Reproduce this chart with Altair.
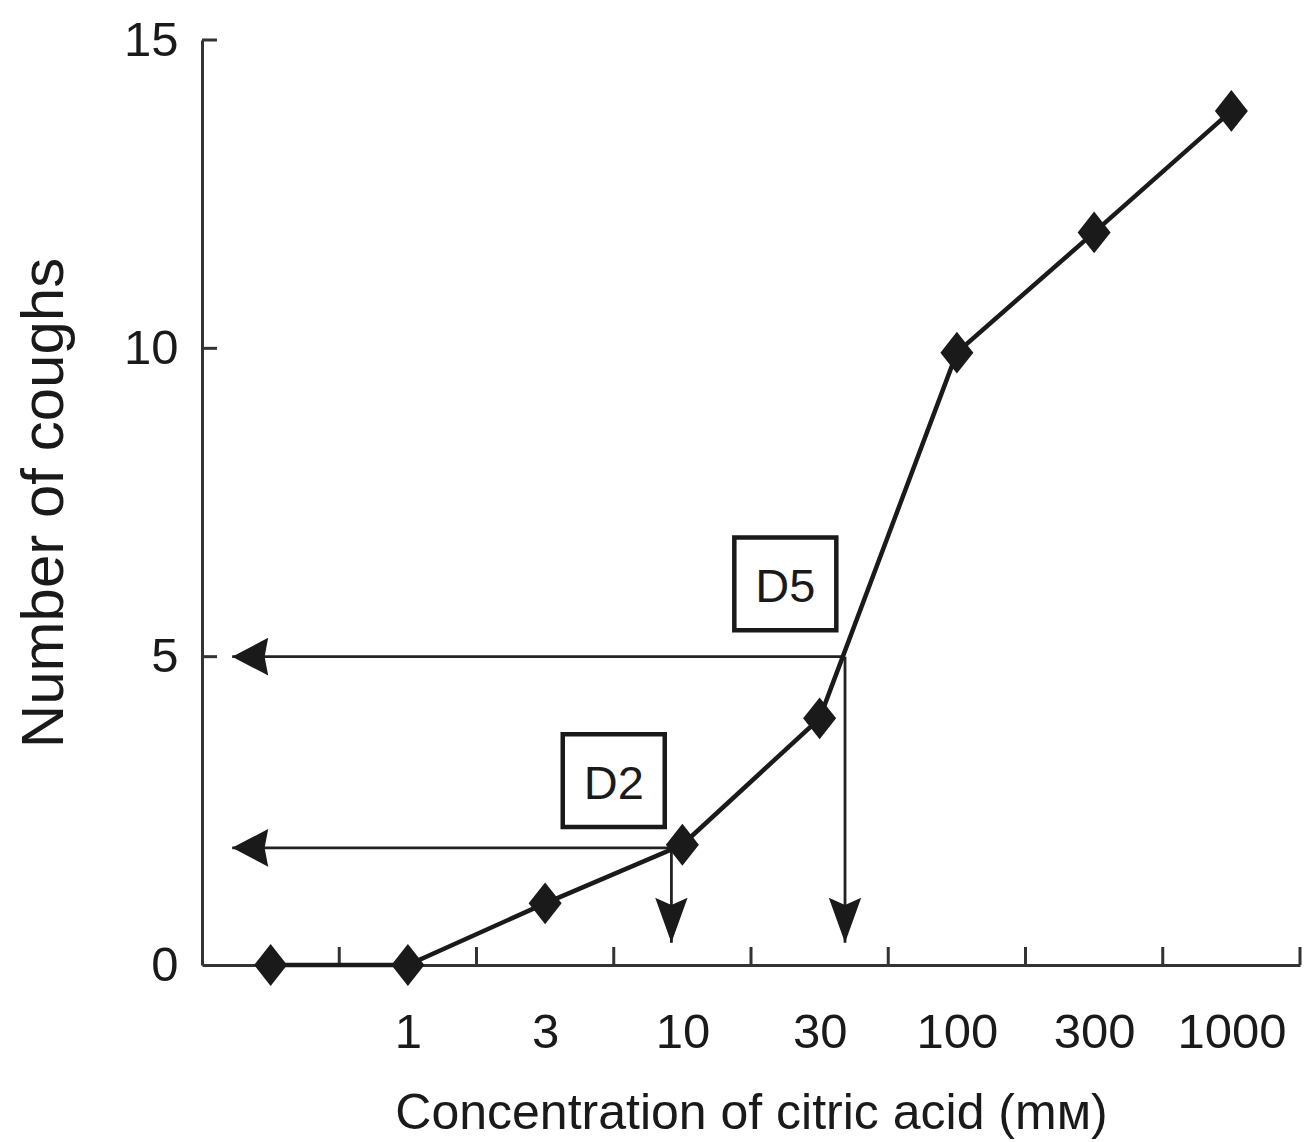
import json
import altair as alt
import pandas as pd

# ---- data ----
conc_labels = ["", "1", "3", "10", "30", "100", "300", "1000"]
conc_index = [0, 1, 2, 3, 4, 5, 6, 7]
coughs = [0, 0, 1, 1.95, 4, 9.93, 11.88, 13.85]

x_tick_pos = [0.5, 1.5, 2.5, 3.5, 4.5, 5.5, 6.5, 7.5]
x_label_pos = [1, 2, 3, 4, 5, 6, 7]
y_tick_vals = [0, 5, 10, 15]
y_inner_ticks = [5, 10, 15]

d_labels = ["D2", "D5"]
d_levels = [1.90, 5.0]          # number of coughs
d_conc_pos = [2.92, 4.185]      # position on concentration axis
d_box_x = [2.50, 3.75]
d_box_y = [2.99, 6.18]
arrow_tip_x = -0.28
arrow_tip_y = 0.36

INK = "#1a1a1a"
AX = "#333333"
FONT = "Liberation Sans, Arial, Helvetica, sans-serif"

W, H = 1098, 925

xs = alt.Scale(domain=[-0.5, 7.5], nice=False, zero=False)
ys = alt.Scale(domain=[0, 15], nice=False, zero=False)

label_expr = json.dumps(conc_labels) + "[datum.value]"

x_axis = alt.Axis(
    values=x_label_pos, labelExpr=label_expr, ticks=False, tickSize=0, grid=False,
    domainColor=AX, domainWidth=3, labelFont=FONT, labelFontSize=49,
    labelColor=INK, labelBaseline="alphabetic", labelPadding=82, labelFlush=False,
    title="Concentration of citric acid (mм)", titleFont=FONT, titleFontSize=50,
    titleFontWeight="normal", titleColor=INK, titleBaseline="alphabetic",
    titleY=163, titleX=W / 2, titleAnchor="middle",
)
y_axis = alt.Axis(
    values=y_tick_vals, ticks=False, tickSize=0, grid=False,
    domainColor=AX, domainWidth=3, labelFont=FONT, labelFontSize=49,
    labelColor=INK, labelPadding=24, labelFlush=False,
    title="Number of coughs", titleFont=FONT, titleFontSize=60,
    titleFontWeight="normal", titleColor=INK, titleAngle=270,
    titleBaseline="alphabetic", titleX=-140, titleY=H / 2, titleAlign="center",
)

X = alt.X("x:Q", scale=xs, axis=x_axis)
Y = alt.Y("y:Q", scale=ys, axis=y_axis)

main = pd.DataFrame({"x": conc_index, "y": coughs})

line = alt.Chart(main).mark_line(color=INK, strokeWidth=4.5).encode(x=X, y=Y)
pts = alt.Chart(main).mark_point(
    filled=True, color=INK, opacity=1, size=1089,
    shape="M0,-1.27L1,0L0,1.27L-1,0Z",
).encode(x=X, y=Y)

xt = alt.Chart(pd.DataFrame({"x": x_tick_pos})).mark_rule(
    color=AX, strokeWidth=3
).encode(x=X, y=alt.value(H), y2=alt.value(H - 18))

yt = alt.Chart(pd.DataFrame({"y": y_inner_ticks})).mark_rule(
    color=AX, strokeWidth=3
).encode(y=Y, x=alt.value(0), x2=alt.value(15))

harr = pd.DataFrame({"x": d_conc_pos, "x2": [arrow_tip_x] * 2, "y": d_levels})
varr = pd.DataFrame({"x": d_conc_pos, "y": d_levels, "y2": [arrow_tip_y] * 2})

hshaft = alt.Chart(harr).mark_rule(color="#222222", strokeWidth=2.8).encode(
    x=X, x2="x2:Q", y=Y)
vshaft = alt.Chart(varr).mark_rule(color="#222222", strokeWidth=2.8).encode(
    x=X, y=Y, y2="y2:Q")

lhead = alt.Chart(pd.DataFrame({"x": [arrow_tip_x] * 2, "y": d_levels})).mark_point(
    filled=True, color=INK, opacity=1, size=1296,
    shape="M0,0L2,-1.05L1.8,0L2,1.05Z",
).encode(x=X, y=Y)
dhead = alt.Chart(pd.DataFrame({"x": d_conc_pos, "y": [arrow_tip_y] * 2})).mark_point(
    filled=True, color=INK, opacity=1, size=1296,
    shape="M0,0L-0.9,-2.5L0,-2.1L0.9,-2.5Z",
).encode(x=X, y=Y)

boxes_df = pd.DataFrame({"x": d_box_x, "y": d_box_y, "label": d_labels})
boxes = alt.Chart(boxes_df).mark_point(
    filled=False, color=INK, opacity=1, strokeWidth=4.5, size=10404,
    shape="M-1,-0.91L1,-0.91L1,0.91L-1,0.91Z",
).encode(x=X, y=Y)
texts = alt.Chart(boxes_df).mark_text(
    font=FONT, fontSize=47, color=INK, baseline="alphabetic", align="center", dy=18,
).encode(x=X, y=Y, text="label:N")

chart = alt.layer(
    xt, yt, hshaft, vshaft, lhead, dhead, line, pts, boxes, texts
).properties(
    width=W, height=H,
    autosize=alt.AutoSizeParams(type="none"),
    padding={"left": 194, "top": 32, "right": 6, "bottom": 176},
).configure(
    background="white",
    view=alt.ViewConfig(stroke="transparent"),
)

chart.save("out.html", embed_options={"renderer": "svg", "actions": False})
